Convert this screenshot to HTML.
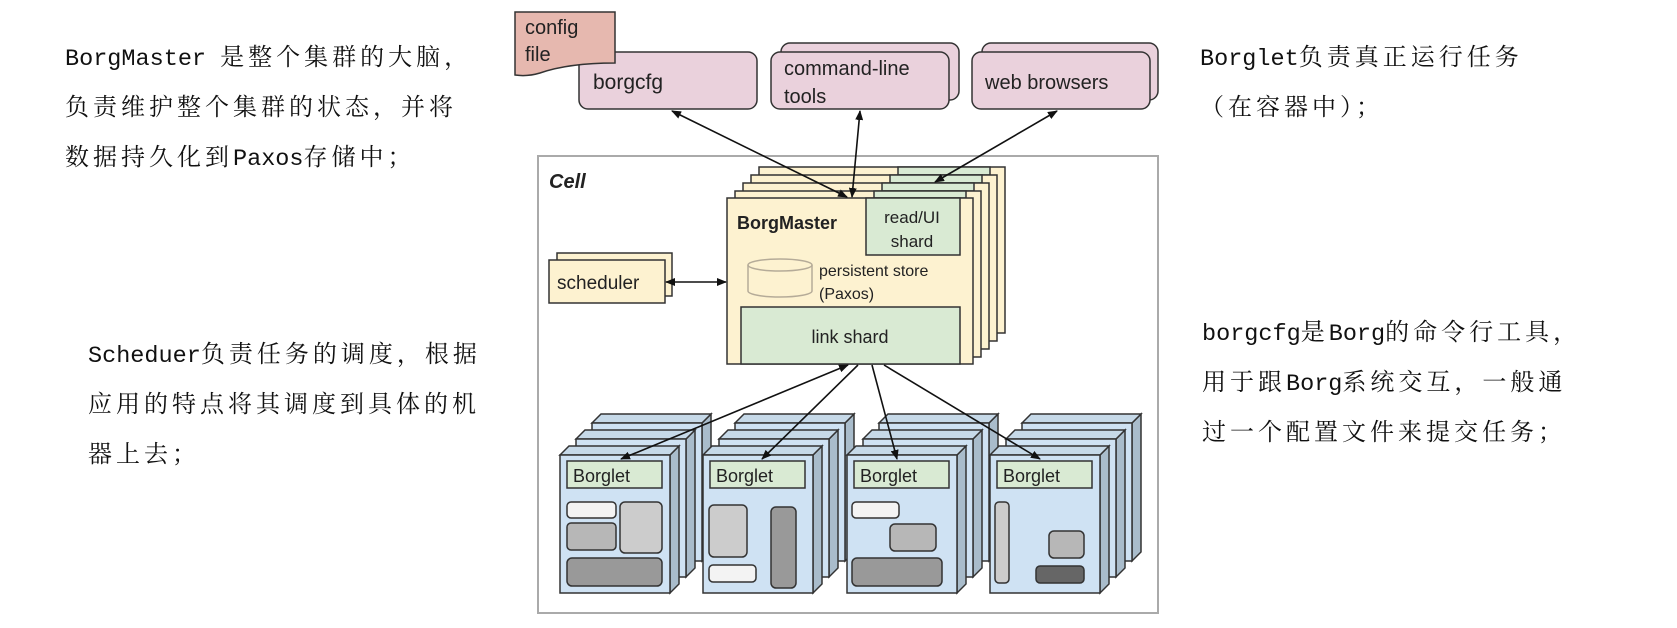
<!DOCTYPE html>
<html><head><meta charset="utf-8"><style>
html,body{margin:0;padding:0;background:#fff;}
body{width:1677px;height:628px;position:relative;overflow:hidden;}
.t{position:absolute;font-family:"Liberation Mono","Noto Serif CJK SC",monospace;font-size:24px;color:#111;white-space:nowrap;line-height:50px;letter-spacing:4px;}
.t .l{font-size:23.5px;letter-spacing:0;}
svg{position:absolute;left:0;top:0;}
svg text{font-family:"Liberation Sans",sans-serif;fill:#222;}
</style></head><body>
<div class="t" style="left:65px;top:35px;"><span class="l">BorgMaster </span>是整个集群的大脑，<br>负责维护整个集群的状态，并将<br>数据持久化到<span class="l">Paxos</span>存储中；</div>
<div class="t" style="left:88px;top:332px;"><span class="l">Scheduer</span>负责任务的调度，根据<br>应用的特点将其调度到具体的机<br>器上去；</div>
<div class="t" style="left:1200px;top:35px;"><span class="l">Borglet</span>负责真正运行任务<br>（在容器中）；</div>
<div class="t" style="left:1202px;top:310px;"><span class="l">borgcfg</span>是<span class="l">Borg</span>的命令行工具，<br>用于跟<span class="l">Borg</span>系统交互，一般通<br>过一个配置文件来提交任务；</div>

<svg width="1677" height="628" viewBox="0 0 1677 628">
<defs>
<marker id="a" markerWidth="10" markerHeight="8" refX="9" refY="4" orient="auto-start-reverse" markerUnits="userSpaceOnUse"><path d="M0,0 L10,4 L0,8 z" fill="#111"/></marker>
<g id="mb">
<polygon points="110,0 119,-9 119,129 110,138" fill="#a9bccb" stroke="#333" stroke-width="1.5"/>
<polygon points="0,0 9,-9 119,-9 110,0" fill="#c6d9e8" stroke="#333" stroke-width="1.5"/>
<rect x="0" y="0" width="110" height="138" fill="#cfe2f3" stroke="#333" stroke-width="1.5"/>
</g>
<g id="mf">
<use href="#mb"/>
<rect x="7" y="6" width="95" height="27" fill="#d9ead3" stroke="#333" stroke-width="1.5"/>
</g>
</defs>

<!-- top row -->
<rect x="579" y="52" width="178" height="57" rx="9" fill="#ead1dc" stroke="#333" stroke-width="1.5"/>
<path d="M515,12 L615,12 L615,63 C585,63 560,66 540,73 C530,76 522,76 515,75 Z" fill="#e6b8af" stroke="#333" stroke-width="1.5"/>
<text x="525" y="34" font-size="20">config</text>
<text x="525" y="61" font-size="20">file</text>
<text x="593" y="89" font-size="21">borgcfg</text>

<rect x="781" y="43" width="178" height="57" rx="9" fill="#ead1dc" stroke="#333" stroke-width="1.5"/>
<rect x="771" y="52" width="178" height="57" rx="9" fill="#ead1dc" stroke="#333" stroke-width="1.5"/>
<text x="784" y="75" font-size="20">command-line</text>
<text x="784" y="103" font-size="20">tools</text>

<rect x="982" y="43" width="176" height="57" rx="9" fill="#ead1dc" stroke="#333" stroke-width="1.5"/>
<rect x="972" y="52" width="178" height="57" rx="9" fill="#ead1dc" stroke="#333" stroke-width="1.5"/>
<text x="985" y="89" font-size="20">web browsers</text>

<!-- cell -->
<rect x="538" y="156" width="620" height="457" fill="none" stroke="#aaa" stroke-width="2"/>
<text x="549" y="188" font-size="20" font-weight="bold" font-style="italic">Cell</text>

<!-- borgmaster stack -->
<g stroke="#333" stroke-width="1.5">
<rect x="759" y="167" width="246" height="166" fill="#fdf2d0"/><rect x="898" y="167" width="92" height="8" fill="#d9ead3"/>
<rect x="751" y="175" width="246" height="166" fill="#fdf2d0"/><rect x="890" y="175" width="92" height="8" fill="#d9ead3"/>
<rect x="743" y="183" width="246" height="166" fill="#fdf2d0"/><rect x="882" y="183" width="92" height="8" fill="#d9ead3"/>
<rect x="735" y="191" width="246" height="166" fill="#fdf2d0"/><rect x="874" y="191" width="92" height="7" fill="#d9ead3"/>
<rect x="727" y="198" width="246" height="166" fill="#fdf2d0"/>
<rect x="866" y="198" width="94" height="57" fill="#d9ead3"/>
<rect x="741" y="307" width="219" height="57" fill="#d9ead3"/>
</g>
<text x="737" y="229" font-size="18" font-weight="bold">BorgMaster</text>
<text x="912" y="223" font-size="17" text-anchor="middle">read/UI</text>
<text x="912" y="247" font-size="17" text-anchor="middle">shard</text>
<g fill="none" stroke="#b5ab98" stroke-width="1.5">
<ellipse cx="780" cy="265" rx="32" ry="6"/>
<path d="M748,265 L748,291 A32,6 0 0 0 812,291 L812,265"/>
</g>
<text x="819" y="276" font-size="16">persistent store</text>
<text x="819" y="299" font-size="16">(Paxos)</text>
<text x="850" y="343" font-size="18" text-anchor="middle">link shard</text>

<!-- scheduler -->
<rect x="557" y="253" width="115" height="43" fill="#fdf2d0" stroke="#333" stroke-width="1.5"/>
<rect x="549" y="260" width="116" height="43" fill="#fdf2d0" stroke="#333" stroke-width="1.5"/>
<text x="557" y="289" font-size="19">scheduler</text>

<!-- top arrows -->
<g stroke="#111" stroke-width="1.6" marker-start="url(#a)" marker-end="url(#a)">
<line x1="672" y1="111" x2="847" y2="197"/>
<line x1="860" y1="111" x2="852" y2="197"/>
<line x1="1057" y1="111" x2="935" y2="182"/>
<line x1="666" y1="282" x2="726" y2="282"/>
</g>

<!-- machines -->
<g transform="translate(592,423)"><use href="#mb"/></g>
<g transform="translate(576,439)"><use href="#mb"/></g>
<g transform="translate(560,455)"><use href="#mf"/><text x="13" y="27" font-size="18">Borglet</text>
<g stroke="#333" stroke-width="1.5"><rect x="7" y="47" width="49" height="16" rx="4" fill="#f3f3f3"/><rect x="7" y="68" width="49" height="27" rx="4" fill="#b7b7b7"/><rect x="60" y="47" width="42" height="51" rx="5" fill="#ccc"/><rect x="7" y="103" width="95" height="28" rx="5" fill="#999"/></g></g>

<g transform="translate(735,423)"><use href="#mb"/></g>
<g transform="translate(719,439)"><use href="#mb"/></g>
<g transform="translate(703,455)"><use href="#mf"/><text x="13" y="27" font-size="18">Borglet</text>
<g stroke="#333" stroke-width="1.5"><rect x="6" y="50" width="38" height="52" rx="5" fill="#ccc"/><rect x="6" y="110" width="47" height="17" rx="4" fill="#f3f3f3"/><rect x="68" y="52" width="25" height="81" rx="5" fill="#999"/></g></g>

<g transform="translate(879,423)"><use href="#mb"/></g>
<g transform="translate(863,439)"><use href="#mb"/></g>
<g transform="translate(847,455)"><use href="#mf"/><text x="13" y="27" font-size="18">Borglet</text>
<g stroke="#333" stroke-width="1.5"><rect x="5" y="47" width="47" height="16" rx="4" fill="#f3f3f3"/><rect x="43" y="69" width="46" height="27" rx="5" fill="#b7b7b7"/><rect x="5" y="103" width="90" height="28" rx="5" fill="#999"/></g></g>

<g transform="translate(1022,423)"><use href="#mb"/></g>
<g transform="translate(1006,439)"><use href="#mb"/></g>
<g transform="translate(990,455)"><use href="#mf"/><text x="13" y="27" font-size="18">Borglet</text>
<g stroke="#333" stroke-width="1.5"><rect x="5" y="47" width="14" height="81" rx="4" fill="#ccc"/><rect x="59" y="76" width="35" height="27" rx="5" fill="#b7b7b7"/><rect x="46" y="111" width="48" height="17" rx="4" fill="#666"/></g></g>

<!-- link arrows -->
<g stroke="#111" stroke-width="1.6">
<line x1="848" y1="365" x2="621" y2="459" marker-start="url(#a)" marker-end="url(#a)"/>
<line x1="858" y1="365" x2="762" y2="459" marker-end="url(#a)"/>
<line x1="872" y1="365" x2="897" y2="459" marker-end="url(#a)"/>
<line x1="884" y1="365" x2="1040" y2="459" marker-end="url(#a)"/>
</g>
</svg>
</body></html>
